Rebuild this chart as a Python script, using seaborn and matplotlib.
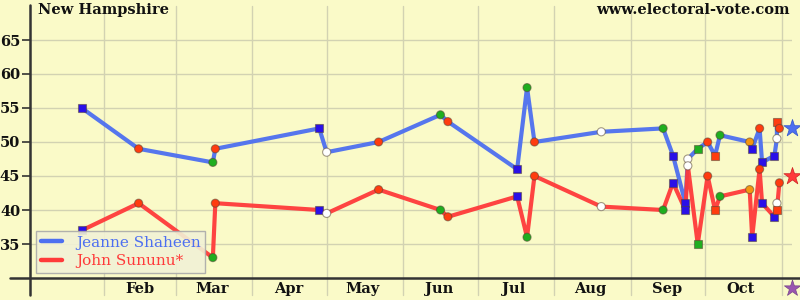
import matplotlib
matplotlib.use("Agg")
import matplotlib.pyplot as plt
import matplotlib.dates as mdates
from matplotlib.lines import Line2D
import numpy as np
import pandas as pd
import seaborn as sns

# ---------------- data ----------------
poll_dates = ["2008-01-23", "2008-02-15", "2008-03-16", "2008-03-17", "2008-04-28",
              "2008-05-01", "2008-05-22", "2008-06-16", "2008-06-19", "2008-07-17",
              "2008-07-21", "2008-07-24", "2008-08-20", "2008-09-14", "2008-09-18",
              "2008-09-23", "2008-09-24", "2008-09-28", "2008-10-02", "2008-10-05",
              "2008-10-07", "2008-10-19", "2008-10-20", "2008-10-23", "2008-10-24",
              "2008-10-29", "2008-10-30", "2008-10-30", "2008-10-31"]
shaheen = [55, 49, 47, 49, 52, 48.5, 50, 54, 53, 46, 58, 50, 51.5, 52, 48,
           41, 47.5, 49, 50, 48, 51, 50, 49, 52, 47, 48, 50.5, 53, 52]
sununu = [37, 41, 33, 41, 40, 39.5, 43, 40, 39, 42, 36, 45, 40.5, 40, 44,
          40, 46.5, 35, 45, 40, 42, 43, 36, 46, 41, 39, 41, 40, 44]
pollster = ["blue_sq", "red_c", "green_c", "red_c", "blue_sq", "white_c", "red_c",
            "green_c", "red_c", "blue_sq", "green_c", "red_c", "white_c", "green_c",
            "blue_sq", "blue_sq", "white_c", "green_sq", "red_c", "red_sq", "green_c",
            "orange_c", "blue_sq", "red_c", "blue_sq", "blue_sq", "white_c", "red_sq",
            "red_c"]
candidates = ["Jeanne Shaheen", "John Sununu*"]
election_date = "2008-11-05"
election_shaheen = 52
election_sununu = 45
month_labels = ["Feb", "Mar", "Apr", "May", "Jun", "Jul", "Aug", "Sep", "Oct"]
y_ticks = [35, 40, 45, 50, 55, 60, 65]

# ---------------- styles ----------------
bg = "#fafac8"
grid_c = "#d2d2b2"
blue = "#4d6ff0"
red = "#ff3a3a"
palette = {"blue_sq": "#2a10e8", "red_c": "#ff3c0f", "green_c": "#1fae1f",
           "white_c": "#ffffff", "orange_c": "#f5960f", "red_sq": "#ff3c0f",
           "green_sq": "#1fae1f"}
markers = {"blue_sq": "s", "red_c": "o", "green_c": "o", "white_c": "o",
           "orange_c": "o", "red_sq": "s", "green_sq": "s"}
serif = "DejaVu Serif"

df = pd.DataFrame({"date": pd.to_datetime(poll_dates), "Shaheen": shaheen,
                   "Sununu": sununu, "pollster": pollster})

sns.set_theme(style="white")
plt.rcParams["font.family"] = [serif, "DejaVu Sans"]

fig = plt.figure(figsize=(8, 3), dpi=100, facecolor=bg)
W, H = 800, 300
ax_left, ax_right, ax_top, ax_bottom = 30, 792, 0, 278
ax = fig.add_axes([ax_left / W, (H - ax_bottom) / H,
                   (ax_right - ax_left) / W, (ax_bottom - ax_top) / H])
ax.set_facecolor(bg)

# x scale: day-of-year
jan1 = pd.Timestamp("2008-01-01")
x0 = mdates.date2num(jan1 + pd.Timedelta(days=1.09))
x1 = mdates.date2num(jan1 + pd.Timedelta(days=309.1))
ax.set_xlim(x0, x1)
ymax = 50 + 142 / 6.8
ax.set_ylim(30, ymax)

# grid
for yv in y_ticks:
    ax.axhline(yv, color=grid_c, lw=1, zorder=0)
for m in range(2, 12):
    d = mdates.date2num(pd.Timestamp(2008, m, 1))
    ax.axvline(d, ymin=-17 / 278, ymax=(278 - 6) / 278, color=grid_c, lw=1,
               zorder=0, clip_on=False)

# lines
sns.lineplot(data=df, x="date", y="Shaheen", sort=False, color=blue, lw=3.0,
             alpha=0.95, ax=ax, zorder=2, estimator=None)
sns.lineplot(data=df, x="date", y="Sununu", sort=False, color=red, lw=3.0,
             alpha=0.95, ax=ax, zorder=3, estimator=None)

# poll markers
for col in ["Shaheen", "Sununu"]:
    sns.scatterplot(data=df, x="date", y=col, hue="pollster", style="pollster",
                    palette=palette, markers=markers, s=34, edgecolor="#55443388",
                    linewidth=0.8, legend=False, ax=ax, zorder=4)

# election-day stars
ed = pd.to_datetime([election_date])
ax.scatter(ed, [election_shaheen], marker="*", s=170, color=blue,
           edgecolor="#3355cc", lw=0.5, zorder=5, clip_on=False)
ax.scatter(ed, [election_sununu], marker="*", s=170, color=red,
           edgecolor="#cc2222", lw=0.5, zorder=5, clip_on=False)
ax.scatter(ed, [30 - 10 / 6.8], marker="*", s=150, color="#9a55b0",
           edgecolor="#774488", lw=0.5, zorder=5, clip_on=False)

# ticks
mids = [mdates.date2num(pd.Timestamp(2008, m, 15)) + 0.5 for m in range(2, 11)]
ax.set_xticks(mids)
ax.set_xticklabels(month_labels)
ax.set_yticks(y_ticks)
ax.set_yticklabels([str(v) for v in y_ticks])
ax.tick_params(axis="x", length=0, pad=3)
ax.tick_params(axis="y", length=6, width=1.2, color="#333333", pad=1, left=True)
for lab in ax.get_xticklabels() + ax.get_yticklabels():
    lab.set_fontfamily(serif)
    lab.set_fontweight("bold")
    lab.set_fontsize(10.5)
    lab.set_color("#111111")
ax.set_xlabel("")
ax.set_ylabel("")
for s in ax.spines.values():
    s.set_visible(False)

# axis lines
fig.add_artist(Line2D([30 / W, 30 / W], [1 - 5 / H, 1 - 295 / H], color="#333333",
                      lw=1.8, transform=fig.transFigure))
fig.add_artist(Line2D([10 / W, 1.0], [1 - 278 / H, 1 - 278 / H], color="#333333",
                      lw=1.8, transform=fig.transFigure))

# titles
fig.text(38 / W, 1 - 3 / H, "New Hampshire", ha="left", va="top",
         fontfamily=serif, fontweight="bold", fontsize=10.5, color="#111111")
fig.text(790 / W, 1 - 3 / H, "www.electoral-vote.com", ha="right", va="top",
         fontfamily=serif, fontweight="bold", fontsize=10.5, color="#111111")

# legend
handles = [Line2D([0], [0], color=blue, lw=3.2), Line2D([0], [0], color=red, lw=3.2)]
leg = ax.legend(handles, candidates, loc="lower left", bbox_to_anchor=(0.008, 0.018),
                borderaxespad=0, fancybox=False, frameon=True,
                handlelength=1.4, handletextpad=0.9, labelspacing=0.3,
                borderpad=0.3, prop={"family": serif, "size": 11})
leg.get_frame().set_facecolor("#f2f2d6")
leg.get_frame().set_edgecolor("#aaaaaa")
leg.get_frame().set_alpha(0.9)
leg.set_zorder(10)
for t, c in zip(leg.get_texts(), [blue, red]):
    t.set_color(c)

fig.savefig("out.png", dpi=100, facecolor=bg)
